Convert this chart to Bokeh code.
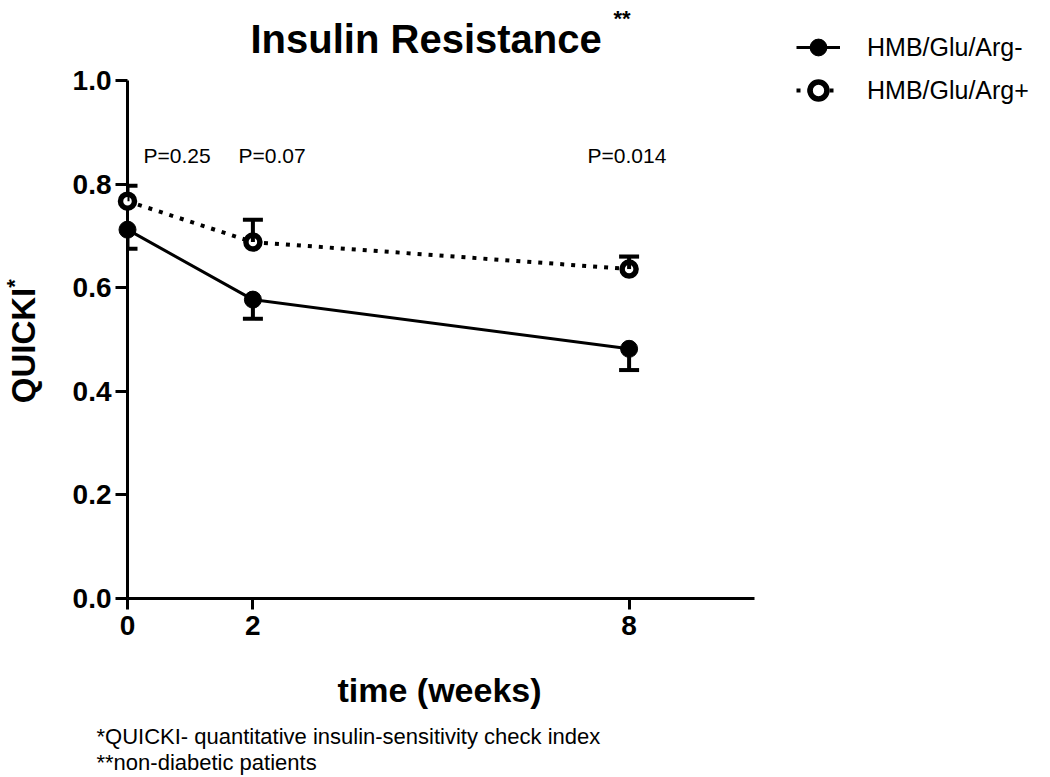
import math
from bokeh.plotting import figure
from bokeh.models import (ColumnDataSource, Range1d, FixedTicker, Whisker, TeeHead,
                          Legend, LegendItem)
from bokeh.core.properties import value
from bokeh.embed import file_html
from bokeh.resources import INLINE

# ---------------- data ----------------
weeks = [0, 2, 8]
hmb_minus = [0.712, 0.577, 0.482]
hmb_minus_lower = [0.675, 0.540, 0.441]
hmb_plus = [0.767, 0.688, 0.636]
hmb_plus_upper = [0.797, 0.731, 0.660]
p_texts = ["P=0.25", "P=0.07", "P=0.014"]
y_ticks = [0.0, 0.2, 0.4, 0.6, 0.8, 1.0]
y_tick_labels = ["0.0", "0.2", "0.4", "0.6", "0.8", "1.0"]
x_ticks = [0, 2, 8]
x_tick_labels = ["0", "2", "8"]
series_names = ["HMB/Glu/Arg-", "HMB/Glu/Arg+"]
x_axis_max = 10
y_axis_max = 1.0

FONT = "Liberation Sans"

src_minus = ColumnDataSource(dict(x=weeks, y=hmb_minus, lo=hmb_minus_lower))
src_plus = ColumnDataSource(dict(x=weeks, y=hmb_plus, hi=hmb_plus_upper))

# layout (canvas pixels)
W, H = 1040, 777
AX_L, AX_R, AX_T, AX_B = 127, 754, 80, 598      # where the drawn axes span
FRAME_R, FRAME_T = 1035, 15                     # invisible frame reaches further
PX_X = (AX_R - AX_L) / x_axis_max
PX_Y = (AX_B - AX_T) / y_axis_max

p = figure(width=W, height=H, output_backend="svg", toolbar_location=None,
           x_range=Range1d(0, (FRAME_R - AX_L) / PX_X),
           y_range=Range1d(0, (AX_B - FRAME_T) / PX_Y),
           min_border_left=AX_L, min_border_right=W - FRAME_R,
           min_border_top=FRAME_T, min_border_bottom=H - AX_B)
p.outline_line_color = None
p.xgrid.visible = False
p.ygrid.visible = False
p.background_fill_color = "white"

# axes
for ax in (p.xaxis[0], p.yaxis[0]):
    ax.axis_line_width = 3
    ax.major_tick_line_width = 3
    ax.minor_tick_line_color = None
    ax.major_tick_in = 0
    ax.major_label_text_font = FONT
    ax.major_label_text_font_style = "bold"
    ax.major_label_text_font_size = "28px"
    ax.major_label_text_color = "black"

p.yaxis[0].ticker = FixedTicker(ticks=y_ticks)
p.yaxis[0].major_label_overrides = {t: l for t, l in zip(y_ticks, y_tick_labels)}
p.yaxis[0].major_tick_out = 12
p.yaxis[0].major_label_standoff = 4
p.yaxis[0].bounds = (0, y_axis_max)

p.xaxis[0].ticker = FixedTicker(ticks=x_ticks)
p.xaxis[0].major_label_overrides = {t: l for t, l in zip(x_ticks, x_tick_labels)}
p.xaxis[0].major_tick_out = 11
p.xaxis[0].major_label_standoff = 6
p.xaxis[0].bounds = (0, x_axis_max)

# lines
l_minus = p.line("x", "y", source=src_minus, line_color="black", line_width=3,
                 level="overlay")
l_plus = p.line("x", "y", source=src_plus, line_color="black", line_width=4,
                line_dash="4 7", level="overlay")

# error bars (one-sided)
w_minus = Whisker(source=src_minus, base="x", lower="lo", upper="y", dimension="height",
                  line_width=4, line_color="black", upper_head=None, level="overlay",
                  lower_head=TeeHead(size=20, line_width=4, line_color="black"))
w_plus = Whisker(source=src_plus, base="x", lower="y", upper="hi", dimension="height",
                 line_width=4, line_color="black", lower_head=None, level="overlay",
                 upper_head=TeeHead(size=20, line_width=4, line_color="black"))
p.add_layout(w_minus)
p.add_layout(w_plus)

s_minus = p.scatter("x", "y", source=src_minus, marker="circle", size=17,
                    fill_color="black", line_color="black", line_width=1,
                    level="overlay")
s_plus = p.scatter("x", "y", source=src_plus, marker="circle", size=14,
                   fill_color="white", line_color="black", line_width=5.5,
                   level="overlay")

# legend (inside the invisible frame, right of the drawn axes)
legend = Legend(items=[LegendItem(label=series_names[0], renderers=[l_minus, s_minus]),
                       LegendItem(label=series_names[1], renderers=[l_plus, s_plus])],
                location=(796 - AX_L, AX_B - 111), orientation="vertical",
                glyph_width=44, glyph_height=42, label_height=42, spacing=1,
                label_standoff=27, padding=0, margin=0,
                border_line_color=None, background_fill_alpha=0,
                label_text_font=FONT, label_text_font_size="25px",
                label_text_color="black")
p.add_layout(legend)


# canvas pixel -> data coordinate (layout helpers only)
def dx(px):
    return (px - AX_L) / PX_X


def dy(py):
    return (AX_B - py) / PX_Y


def add_text(txt, px, py, size, bold=False, align="left", baseline="alphabetic", angle=0.0):
    p.text(x=[dx(px)], y=[dy(py)], text=[txt], text_font=value(FONT),
           text_font_size=size, text_font_style="bold" if bold else "normal",
           text_align=align, text_baseline=baseline, angle=angle,
           text_color="black", level="overlay")


# p-value annotations
for txt, lx in zip(p_texts, [143, 238, 587]):
    add_text(txt, lx, 155, "21px", baseline="middle")

# title
add_text("Insulin Resistance", 250, 38, "40px", bold=True)
add_text("**", 613, 18, "22px", bold=True)

# x axis label
add_text("time (weeks)", 439, 689, "34px", bold=True, align="center")

# y axis label
add_text("QUICKI", 23, 345, "33px", bold=True, align="center", angle=math.pi / 2)
add_text("*", 14, 283, "22px", bold=True, align="center", angle=math.pi / 2)

# footnotes
add_text("*QUICKI- quantitative insulin-sensitivity check index", 96, 736, "22px")
add_text("**non-diabetic patients", 96, 762, "22px")

open("out.html", "w").write(file_html(p, INLINE))
